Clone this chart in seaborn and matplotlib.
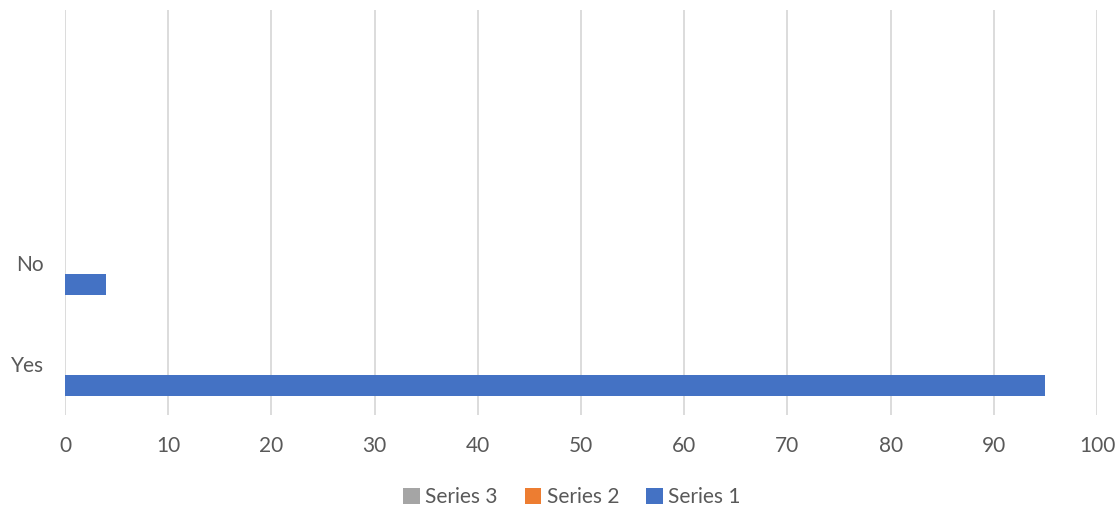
import matplotlib
matplotlib.use("Agg")
import matplotlib.pyplot as plt
import seaborn as sns
import pandas as pd
import numpy as np

categories = ["Yes", "No", "Cat 3", "Cat 4"]
tick_labels = ["Yes", "No", "", ""]
series_names = ["Series 1", "Series 2", "Series 3"]
series1 = [95, 4, 0, 0]
series2 = [0, 0, 0, 0]
series3 = [0, 0, 0, 0]
x_ticks = [0, 10, 20, 30, 40, 50, 60, 70, 80, 90, 100]

rows = []
for name, vals in zip(series_names, [series1, series2, series3]):
    for c, v in zip(categories, vals):
        rows.append({"Category": c, "Series": name, "Value": v})
df = pd.DataFrame(rows)

sns.set_theme(style="white")
plt.rcParams["font.family"] = ["Lato", "DejaVu Sans"]
text_color = "#595959"
fs = 15

fig = plt.figure(figsize=(11.18, 5.11), dpi=100)
ax = fig.add_axes([65 / 1118, 1 - 415 / 511, (1097 - 65) / 1118, (415 - 10) / 511])

order = categories[::-1]
hue_order = ["Series 3", "Series 2", "Series 1"]
palette = {"Series 1": "#4472C4", "Series 2": "#ED7D31", "Series 3": "#A5A5A5"}

sns.barplot(data=df, x="Value", y="Category", hue="Series", order=order,
            hue_order=hue_order, palette=palette, width=0.63, gap=0,
            linewidth=0, saturation=1, ax=ax, legend=True, errorbar=None)

ax.set_xlim(0, 100)
ax.set_ylim(3.5, -0.5)
ax.set_xticks(x_ticks)
ax.set_xticklabels([str(t) for t in x_ticks], fontsize=fs, color=text_color)
ax.set_yticks(range(len(order)))
ax.set_yticklabels(tick_labels[::-1], fontsize=fs, color=text_color)
ax.tick_params(axis="x", length=0, pad=15)
ax.tick_params(axis="y", length=0, pad=15)
ax.xaxis.grid(True, color="#D9D9D9", linewidth=1.3)
ax.yaxis.grid(False)
ax.set_axisbelow(True)
for s in ax.spines.values():
    s.set_visible(False)
ax.set_xlabel("")
ax.set_ylabel("")

handles, labels = ax.get_legend_handles_labels()
ax.legend_.remove()
fig.legend(handles, labels, loc="center", bbox_to_anchor=(572 / 1118, 1 - 497 / 511),
           ncol=3, frameon=False, fontsize=fs, labelcolor=text_color,
           handlelength=0.8, handleheight=0.8, handletextpad=0.25, columnspacing=1.3)

fig.savefig("out.png", dpi=100)
